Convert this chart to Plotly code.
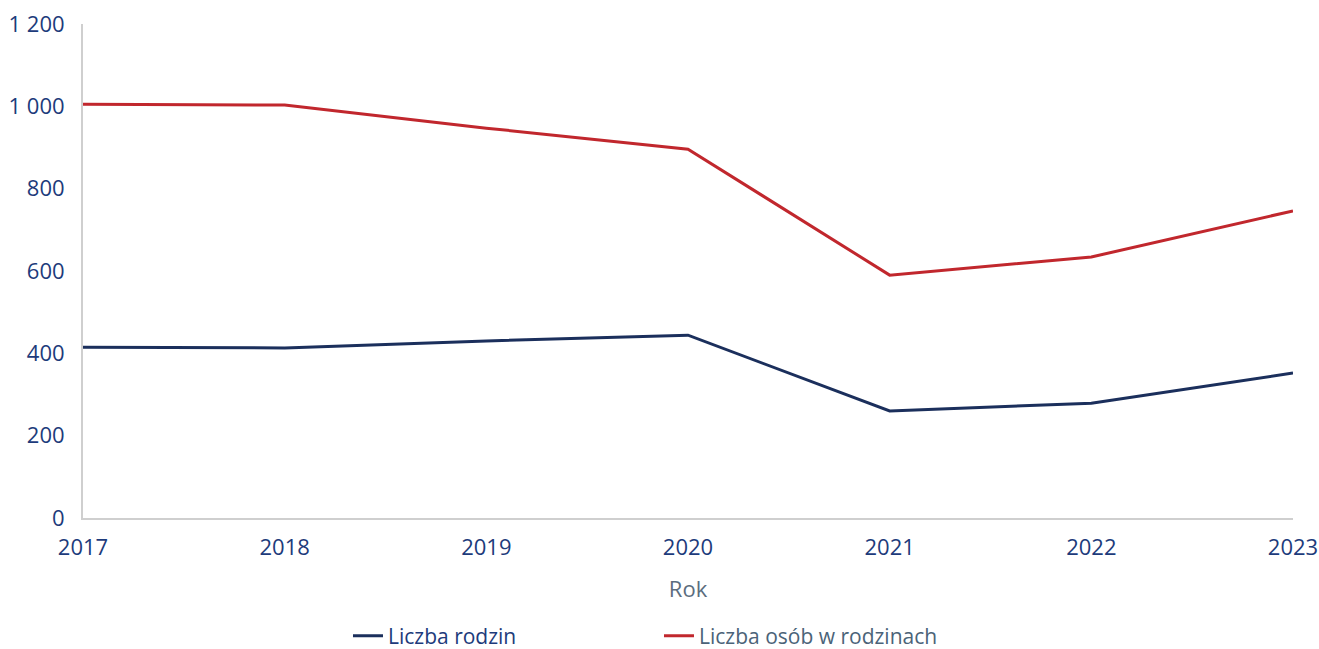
import plotly.graph_objects as go

years = [2017, 2018, 2019, 2020, 2021, 2022, 2023]
rodziny = [415, 413, 430, 444, 260, 279, 352]
osoby = [1005, 1003, 947, 896, 590, 634, 746]
y_ticks = [0, 200, 400, 600, 800, 1000, 1200]

navy = "#1b2f5c"
red = "#c1272d"
label_blue = "#1d3b7b"

fig = go.Figure()
fig.add_trace(go.Scatter(
    x=years, y=rodziny, mode="lines",
    name="<span style='color:#1d3b7b'>Liczba rodzin</span>",
    line=dict(color=navy, width=3),
))
fig.add_trace(go.Scatter(
    x=years, y=osoby, mode="lines",
    name="<span style='color:#4b6378'>Liczba osób w rodzinach</span>",
    line=dict(color=red, width=3),
))

fig.update_layout(
    width=1319, height=649,
    margin=dict(l=83, r=26, t=24, b=131, autoexpand=False),
    paper_bgcolor="white", plot_bgcolor="white",
    font=dict(family="Open Sans", size=21, color=label_blue),
    separators=", ",
    showlegend=True,
    legend=dict(
        orientation="h", x=0.219, xanchor="left", y=-0.239, yanchor="middle",
        itemwidth=30, entrywidth=266, font=dict(size=21),
    ),
    xaxis=dict(
        range=[2017, 2023], tickvals=years, showgrid=False, zeroline=False,
        showline=True, linecolor="#cfcfcf", linewidth=2, automargin=False,
        ticks="", ticklabelstandoff=9, ticklabeloverflow="allow",
        tickfont=dict(size=22, color=label_blue),
        title=dict(text="Rok", font=dict(size=22, color="#5b6d7e"), standoff=21),
    ),
    yaxis=dict(
        range=[0, 1200], tickvals=y_ticks, tickformat=",d", showgrid=False,
        zeroline=False, showline=True, linecolor="#cfcfcf", linewidth=2,
        automargin=False, ticks="", ticklabelstandoff=12,
        ticklabeloverflow="allow", tickfont=dict(size=22, color=label_blue),
    ),
)

# drop the default 8px body margin so the figure fills the window
fig.write_html(
    "out.html",
    config={"displayModeBar": False},
    post_script="document.body.style.margin='0';",
)
